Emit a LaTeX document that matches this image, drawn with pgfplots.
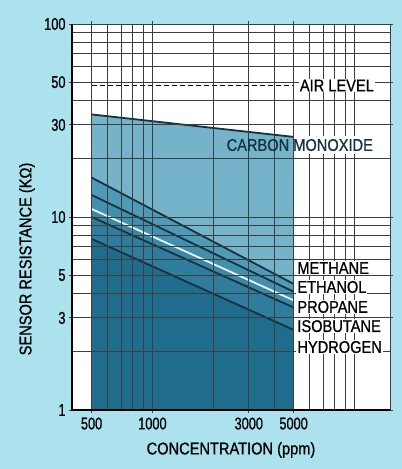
\documentclass[border=0pt]{standalone}
\usepackage{fontspec}
\setmainfont{Liberation Sans}[FakeStretch=0.86, FakeBold=0.8]
\newfontfamily\numfont{Liberation Sans}[FakeStretch=0.75, FakeBold=0.8]
\usepackage{pgfplots}
\pgfplotsset{compat=1.18}
\definecolor{bg}{HTML}{ABE2EE}
\definecolor{gridc}{HTML}{3A3F42}
\definecolor{lc}{HTML}{15323F}
\definecolor{fco}{HTML}{74B3C9}
\definecolor{fme}{HTML}{4F9BB7}
\definecolor{fet}{HTML}{4390AE}
\definecolor{fpr}{HTML}{3A88A7}
\definecolor{fis}{HTML}{2F7C9C}
\definecolor{fhy}{HTML}{1F6C8D}
\begin{document}
\begin{tikzpicture}[x=1pt,y=1pt]
\fill[bg] (0,0) rectangle (402,469);
\useasboundingbox (0,0) rectangle (402,469);
\begin{axis}[
  at={(72pt,59pt)}, anchor=south west, scale only axis,
  width=318pt, height=386pt,
  xmode=log, ymode=log, xmin=400, xmax=15000, ymin=1, ymax=100,
  axis background/.style={fill=white},
  axis on top,
  grid=both,
  major grid style={draw=gridc, line width=0.9pt},
  minor grid style={draw=gridc, line width=0.9pt},
  xtick={500,1000,3000,5000}, xticklabels={500,1000,3000,5000},
  ytick={1,3,5,10,30,50,100}, yticklabels={1,3,5,10,30,50,100},
  minor xtick={600,700,800,900,2000,4000,6000,7000,8000,9000,10000},
  minor ytick={2,4,6,7,8,9,20,40,60,70,80,90},
  /pgf/number format/assume math mode=true,
  tick label style={font=\numfont\fontsize{17}{17}\selectfont, text=black},
  xticklabel style={yshift=-1pt},
  axis line style={draw=gridc, line width=0.9pt},
  tick style={draw=gridc, line width=0.9pt},
  tick align=outside, major tick length=3pt, minor tick length=0pt,
]
% stacked fills
\addplot[fill=fco, draw=none] coordinates {(500,1) (500,34) (5000,26) (5000,1)} -- cycle;
\addplot[fill=fme, draw=none] coordinates {(500,1) (500,16) (5000,4.5) (5000,1)} -- cycle;
\addplot[fill=fet, draw=none] coordinates {(500,1) (500,13) (5000,4.1) (5000,1)} -- cycle;
\addplot[fill=fpr, draw=none] coordinates {(500,1) (500,11) (5000,3.7) (5000,1)} -- cycle;
\addplot[fill=fis, draw=none] coordinates {(500,1) (500,10) (5000,3.4) (5000,1)} -- cycle;
\addplot[fill=fhy, draw=none] coordinates {(500,1) (500,7.7) (5000,2.6) (5000,1)} -- cycle;
% lines
\addplot[lc, line width=1.8pt] coordinates {(500,34) (5000,26)};
\addplot[lc, line width=1.8pt] coordinates {(500,16) (5000,4.5)};
\addplot[lc, line width=1.8pt] coordinates {(500,13) (5000,4.1)};
\addplot[white!90!fpr, line width=1.8pt] coordinates {(500,11) (5000,3.7)};
\addplot[lc, line width=1.8pt] coordinates {(500,10) (5000,3.4)};
\addplot[lc, line width=1.8pt] coordinates {(500,7.7) (5000,2.6)};
% air level
\addplot[black, line width=1.4pt, dash pattern=on 5pt off 3pt] coordinates {(500,48) (5000,48)};
\coordinate (cair) at (axis cs:5300,48);
\coordinate (c5co) at (axis cs:5000,23.6);
\coordinate (cco) at (axis cs:2300,23.6);
\coordinate (cme) at (axis cs:5150,5.44);
\coordinate (cet) at (axis cs:5150,4.34);
\coordinate (cpr) at (axis cs:5150,3.42);
\coordinate (cis) at (axis cs:5150,2.72);
\coordinate (chy) at (axis cs:5150,2.12);
\end{axis}
\draw[black, line width=2.5pt] (current axis.north west) -- (current axis.south west) -- (current axis.south east);
\fill[white] ([yshift=-9pt]c5co) rectangle ([xshift=94pt,yshift=9pt]c5co);
\begin{scope}[every node/.style={font=\fontsize{17}{17}\selectfont, text=black, inner sep=1pt}]
\node[anchor=west, fill=white] at (cair) {AIR LEVEL};
\node[anchor=west, text=lc] at (cco) {CARBON MONOXIDE};
\node[anchor=west, fill=white] at (cme) {METHANE};
\node[anchor=west, fill=white] at (cet) {ETHANOL};
\node[anchor=west, fill=white] at (cpr) {PROPANE};
\node[anchor=west, fill=white] at (cis) {ISOBUTANE};
\node[anchor=west, fill=white] at (chy) {HYDROGEN};
\node at (231,19) {CONCENTRATION (ppm)};
\node[rotate=90] at (27,210) {SENSOR RESISTANCE (KΩ)};
\end{scope}
\end{tikzpicture}
\end{document}
